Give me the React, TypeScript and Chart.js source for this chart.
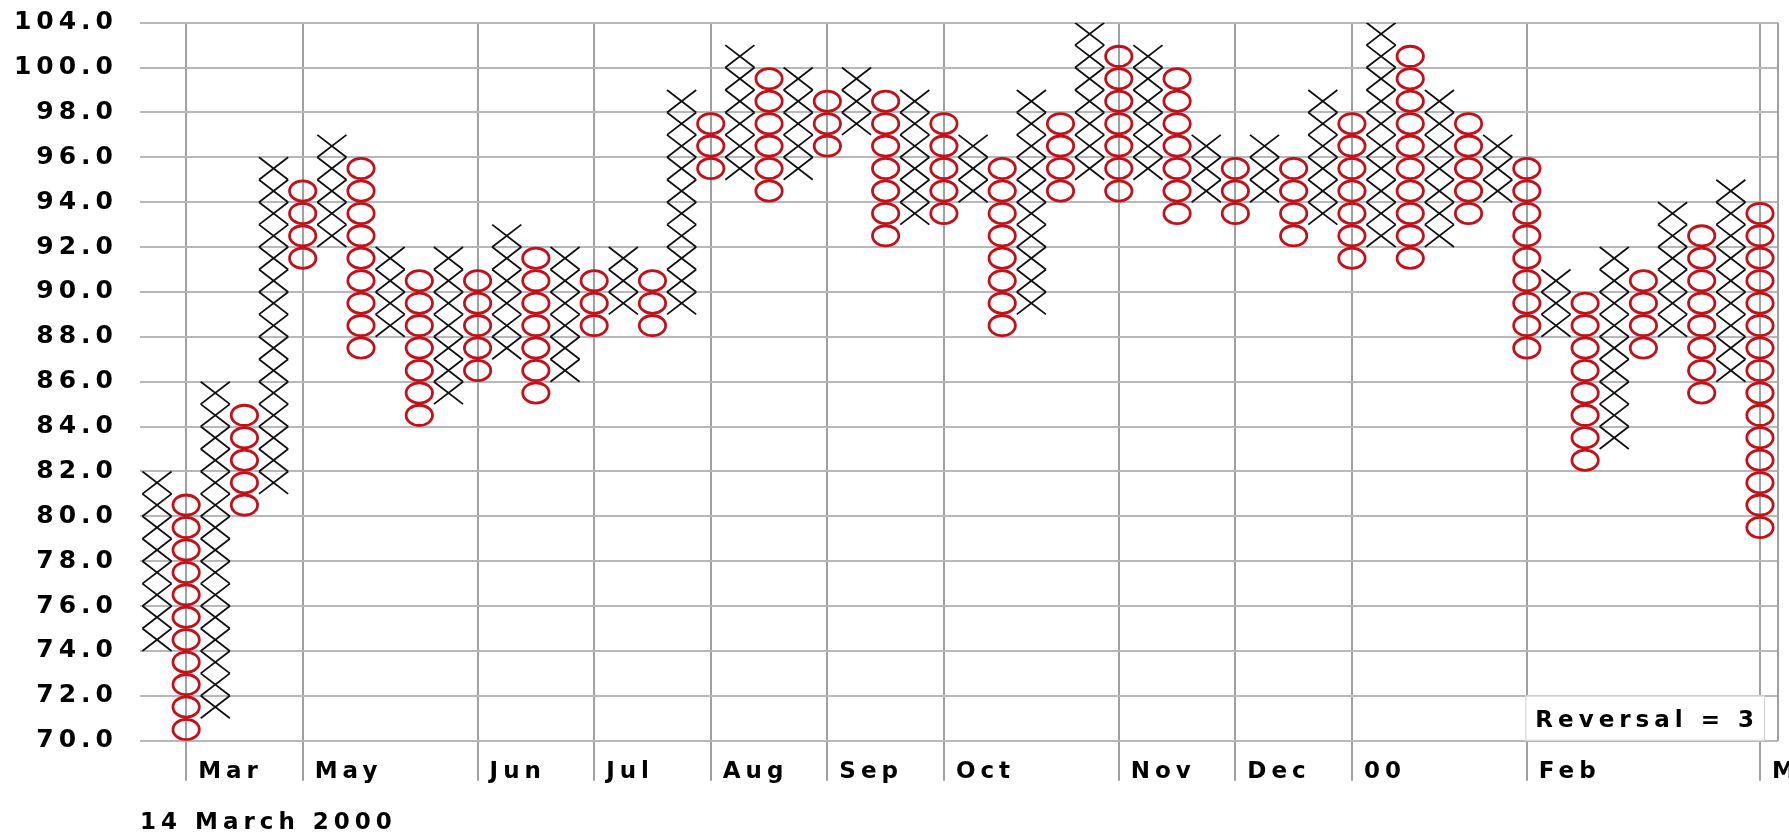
import React, { useEffect, useRef } from "react";
import { Chart, registerables } from "chart.js";

Chart.register(...registerables);

// ---- data ----
const columnKinds = [
  "X", "O", "X", "O", "X", "O", "X", "O", "X", "O", "X", "O", "X", "O",
  "X", "O", "X", "O", "X", "O", "X", "O", "X", "O", "X", "O", "X", "O",
  "X", "O", "X", "O", "X", "O", "X", "O", "X", "O", "X", "O", "X", "O",
  "X", "O", "X", "O", "X", "O", "X", "O", "X", "O", "X", "O", "X", "O",
];
const columnLows = [
  74, 70, 71, 80, 81, 91, 92, 87, 88, 84, 85, 86, 87, 85,
  86, 88, 89, 88, 89, 95, 95, 94, 95, 96, 97, 92, 93, 93,
  94, 88, 89, 94, 95, 94, 95, 93, 94, 93, 94, 92, 93, 91,
  92, 91, 92, 93, 94, 87, 88, 82, 83, 87, 88, 85, 86, 79,
];
const columnHighs = [
  81, 80, 85, 84, 95, 94, 96, 95, 91, 90, 91, 90, 92, 91,
  91, 90, 91, 90, 98, 97, 100, 99, 99, 98, 99, 98, 98, 97,
  96, 95, 98, 97, 101, 100, 100, 99, 96, 95, 96, 95, 98, 97,
  101, 100, 98, 97, 96, 95, 90, 89, 91, 90, 93, 92, 94, 93,
];
const monthColumns = [2, 6, 12, 16, 20, 24, 28, 34, 38, 42, 48, 56];
const monthLabels = ["Mar", "May", "Jun", "Jul", "Aug", "Sep", "Oct", "Nov", "Dec", "00", "Feb", "Mar"];
const priceTicks = [70, 72, 74, 76, 78, 80, 82, 84, 86, 88, 90, 92, 94, 96, 98, 100, 102];
const priceTickLabels = [
  "70.0", "72.0", "74.0", "76.0", "78.0", "80.0", "82.0", "84.0", "86.0",
  "88.0", "90.0", "92.0", "94.0", "96.0", "98.0", "100.0", "104.0",
];
const dateLabel = "14 March 2000";
const reversalLabel = "Reversal = 3";

const FONT = "'DejaVu Sans', 'Liberation Sans', sans-serif";
const SPACING = "5px";

function boxPoints(kind: string) {
  const pts: { x: number; y: number }[] = [];
  columnKinds.forEach((k, i) => {
    if (k !== kind) return;
    for (let b = columnLows[i]; b <= columnHighs[i]; b++) {
      pts.push({ x: i + 1, y: b + 0.5 });
    }
  });
  return pts;
}

const textSpacing = {
  id: "textSpacing",
  beforeDraw(chart: any) {
    (chart.ctx as any).letterSpacing = SPACING;
  },
  afterDraw(chart: any) {
    (chart.ctx as any).letterSpacing = "0px";
  },
};

const pnfMarks = {
  id: "pnfMarks",
  afterDatasetsDraw(chart: any) {
    const { ctx, chartArea, scales } = chart;
    const xs = scales.x;
    const ys = scales.y;
    const w = Math.abs(xs.getPixelForValue(1) - xs.getPixelForValue(0));
    const h = Math.abs(ys.getPixelForValue(70) - ys.getPixelForValue(71));
    ctx.save();
    ctx.beginPath();
    ctx.rect(chartArea.left, chartArea.top, chartArea.right - chartArea.left, chartArea.bottom - chartArea.top);
    ctx.clip();
    chart.data.datasets.forEach((ds: any, di: number) => {
      const meta = chart.getDatasetMeta(di);
      meta.data.forEach((el: any) => {
        const cx = el.x;
        const cy = el.y;
        ctx.beginPath();
        if (ds.label === "X") {
          ctx.moveTo(cx - w / 2, cy - h / 2);
          ctx.lineTo(cx + w / 2, cy + h / 2);
          ctx.moveTo(cx + w / 2, cy - h / 2);
          ctx.lineTo(cx - w / 2, cy + h / 2);
          ctx.strokeStyle = "#111111";
          ctx.lineWidth = 1.8;
          ctx.stroke();
        } else {
          ctx.ellipse(cx, cy, w / 2 - 1.4, h / 2 - 1.1, 0, 0, Math.PI * 2);
          ctx.strokeStyle = "#c41018";
          ctx.lineWidth = 2.8;
          ctx.stroke();
        }
      });
    });
    ctx.restore();
    // right border of plot
    ctx.save();
    ctx.beginPath();
    ctx.moveTo(chartArea.right, chartArea.top);
    ctx.lineTo(chartArea.right, chartArea.bottom);
    ctx.strokeStyle = "#a0a0a0";
    ctx.lineWidth = 2;
    ctx.stroke();
    ctx.restore();
  },
};

const reversalBox = {
  id: "reversalBox",
  afterDraw(chart: any) {
    const { ctx, chartArea } = chart;
    ctx.save();
    (ctx as any).letterSpacing = SPACING;
    ctx.font = `bold 23px ${FONT}`;
    const tw = ctx.measureText(reversalLabel).width;
    const right = chartArea.right - 13;
    const bottom = chartArea.bottom;
    const top = bottom - 45;
    const left = right - tw - 16;
    ctx.fillStyle = "#ffffff";
    ctx.fillRect(left, top, right - left, bottom - top);
    ctx.strokeStyle = "#d0d0d0";
    ctx.lineWidth = 1;
    ctx.strokeRect(left + 0.5, top + 0.5, right - left - 1, bottom - top - 1);
    ctx.fillStyle = "#000000";
    ctx.textBaseline = "middle";
    ctx.textAlign = "left";
    ctx.fillText(reversalLabel, left + 10, (top + bottom) / 2 + 3);
    ctx.restore();
  },
};

export default function App() {
  const canvasRef = useRef<HTMLCanvasElement | null>(null);

  useEffect(() => {
    const canvas = canvasRef.current;
    if (!canvas) return;
    const chart = new Chart(canvas, {
      type: "scatter",
      data: {
        datasets: [
          { label: "X", data: boxPoints("X"), pointRadius: 0, pointHoverRadius: 0, showLine: false },
          { label: "O", data: boxPoints("O"), pointRadius: 0, pointHoverRadius: 0, showLine: false },
        ],
      },
      options: {
        animation: false,
        responsive: false,
        devicePixelRatio: 1,
        events: [],
        layout: { padding: { top: 22.7, right: 11, bottom: 0, left: 0 } },
        plugins: {
          legend: { display: false },
          tooltip: { enabled: false },
        },
        scales: {
          x: {
            type: "linear",
            min: 0.4167,
            max: 56.618,
            afterBuildTicks: (s: any) => {
              s.ticks = monthColumns.map((v) => ({ value: v }));
            },
            afterFit: (s: any) => {
              s.height = 99.3;
              s.paddingLeft = 0;
              s.paddingRight = 0;
            },
            ticks: {
              autoSkip: false,
              maxRotation: 0,
              minRotation: 0,
              align: "start",
              labelOffset: 12,
              padding: -22,
              color: "#000000",
              font: { family: FONT, size: 23, weight: "bold", lineHeight: 1.2 },
              callback: (v: any) => {
                const i = monthColumns.indexOf(Number(v));
                return i >= 0 ? monthLabels[i] : "";
              },
            },
            grid: { color: "#a0a0a0", lineWidth: 2, tickLength: 40, drawTicks: true },
            border: { display: false },
            title: {
              display: true,
              text: dateLabel,
              align: "start",
              color: "#000000",
              font: { family: FONT, size: 23, weight: "bold", lineHeight: 1.2 },
              padding: { top: 0, bottom: 3 },
            },
          },
          y: {
            type: "linear",
            min: 70,
            max: 102,
            afterBuildTicks: (s: any) => {
              s.ticks = priceTicks.map((v) => ({ value: v }));
            },
            afterFit: (s: any) => {
              s.width = 140;
              s.paddingTop = 0;
              s.paddingBottom = 0;
            },
            ticks: {
              padding: 22,
              color: "#000000",
              font: { family: FONT, size: 25, weight: "bold" },
              callback: (v: any) => {
                const i = priceTicks.indexOf(Number(v));
                return i >= 0 ? priceTickLabels[i] : "";
              },
            },
            grid: { color: "#b8b8b8", lineWidth: 2, drawTicks: false },
            border: { display: false },
          },
        },
      } as any,
      plugins: [textSpacing, pnfMarks, reversalBox],
    });
    return () => chart.destroy();
  }, []);

  return (
    <div style={{ position: "absolute", left: 0, top: 0, width: 1789, height: 840, background: "#ffffff" }}>
      <canvas ref={canvasRef} width={1789} height={840} />
    </div>
  );
}
